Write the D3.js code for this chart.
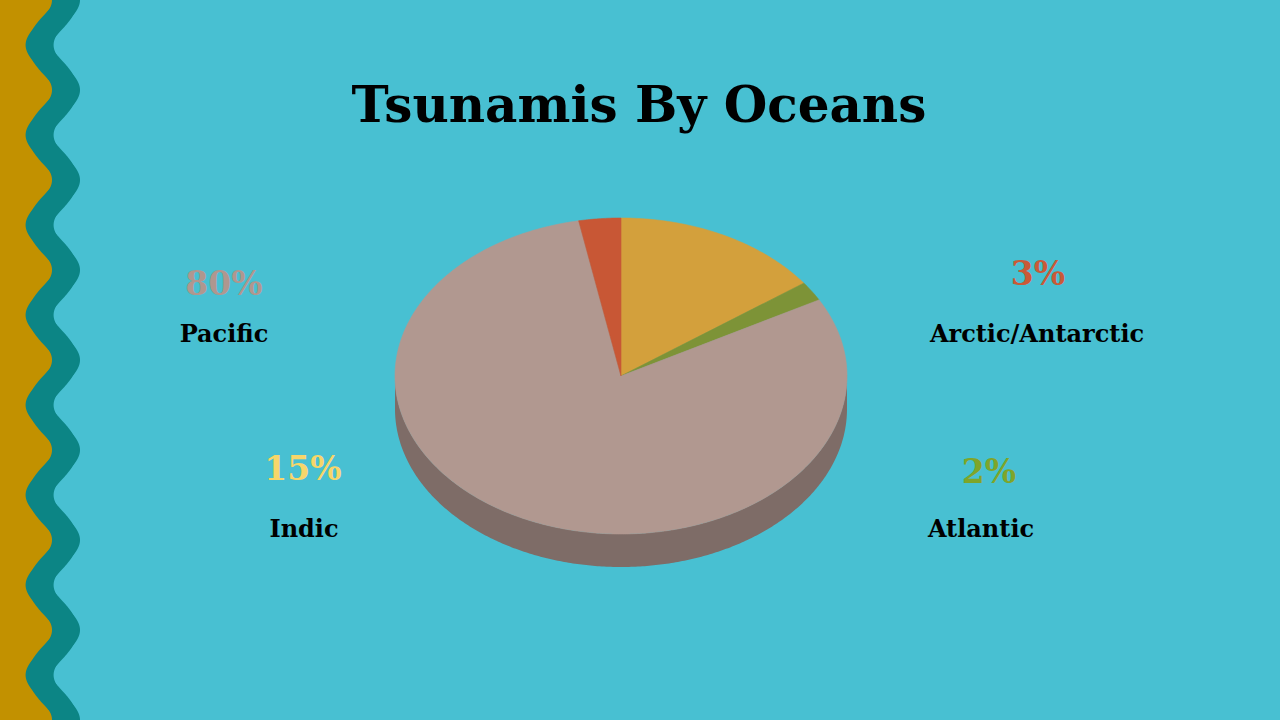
<!DOCTYPE html>
<html>
<head>
<meta charset="utf-8">
<script src="https://cdn.jsdelivr.net/npm/d3@7"></script>
<style>
  html, body { margin: 0; padding: 0; background: #48C0D2; }
  svg { display: block; }
  text { font-family: "DejaVu Serif", "Liberation Serif", serif; font-weight: bold; }
</style>
</head>
<body>
<svg id="chart" width="1280" height="720"></svg>
<script>
// ---- data ----
const categories = ["Indic", "Atlantic", "Pacific", "Arctic/Antarctic"];
const values = [15, 2, 80, 3];
const percentLabels = ["15%", "2%", "80%", "3%"];
const sliceColors = ["#D3A03C", "#7D9337", "#B19890", "#C85735"];
const labelColors = ["#F7D66A", "#7FA52A", "#B0978F", "#C95A38"];
const title = "Tsunamis By Oceans";

const W = 1280, H = 720;
const svg = d3.select("#chart");

svg.append("rect").attr("width", W).attr("height", H).attr("fill", "#48C0D2");

// ---- decorative wavy border ----
const period = 90, amp = 13.2, mid = 52.8, half = 14;
const ys = d3.range(-20, H + 21, 1);
const cx = y => mid + amp * Math.cos(2 * Math.PI * y / period);
svg.append("rect").attr("x", 0).attr("y", 0).attr("width", mid).attr("height", H).attr("fill", "#C29100");
svg.append("path")
  .attr("d", d3.area().x0(y => cx(y) - half).x1(y => cx(y) + half).y(y => y)(ys))
  .attr("fill", "#0C8585");
svg.append("path")
  .attr("d", d3.line().x(y => cx(y)).y(y => y)(ys))
  .attr("fill", "none")
  .attr("stroke", "#0C8585")
  .attr("stroke-width", 23);

// ---- title ----
svg.append("text")
  .attr("x", 639).attr("y", 122)
  .attr("text-anchor", "middle")
  .attr("font-size", 50)
  .attr("fill", "#000")
  .text(title);

// ---- 3D pie ----
const center = { x: 621, y: 376 };
const rx = 226, ry = 158, depth = 33;
const pie = d3.pie().sort(null).startAngle(0).endAngle(2 * Math.PI)(values);
const pt = (a, dy = 0) => [center.x + rx * Math.sin(a), center.y - ry * Math.cos(a) + dy];
const sample = (a0, a1) => {
  const n = Math.max(2, Math.ceil((a1 - a0) / 0.01));
  return d3.range(n + 1).map(i => a0 + (a1 - a0) * i / n);
};
const line = d3.line();

// side walls (front half only: angles between PI/2 and 3PI/2)
const sideG = svg.append("g");
pie.forEach((d, i) => {
  const a0 = Math.max(d.startAngle, Math.PI / 2);
  const a1 = Math.min(d.endAngle, 3 * Math.PI / 2);
  if (a1 <= a0) return;
  const top = sample(a0, a1).map(a => pt(a));
  const bot = sample(a0, a1).reverse().map(a => pt(a, depth));
  sideG.append("path")
    .attr("d", line(top.concat(bot)) + "Z")
    .attr("fill", d3.color(sliceColors[i]).darker(0.95));
});

// top faces
const topG = svg.append("g");
pie.forEach((d, i) => {
  const pts = [[center.x, center.y]].concat(sample(d.startAngle, d.endAngle).map(a => pt(a)));
  topG.append("path")
    .attr("d", line(pts) + "Z")
    .attr("fill", sliceColors[i])
    .attr("stroke", sliceColors[i])
    .attr("stroke-width", 0.6);
});

// ---- labels ----
const labelPos = [
  { px: 303, py: 480, nx: 304, ny: 537 },   // Indic
  { px: 989, py: 483, nx: 981, ny: 537 },   // Atlantic
  { px: 224, py: 295, nx: 224, ny: 342 },   // Pacific
  { px: 1038, py: 285, nx: 1037, ny: 342 }  // Arctic/Antarctic
];
categories.forEach((c, i) => {
  const p = labelPos[i];
  svg.append("text")
    .attr("x", p.px).attr("y", p.py)
    .attr("text-anchor", "middle")
    .attr("font-size", 33)
    .attr("fill", labelColors[i])
    .text(percentLabels[i]);
  svg.append("text")
    .attr("x", p.nx).attr("y", p.ny)
    .attr("text-anchor", "middle")
    .attr("font-size", 24)
    .attr("fill", "#000")
    .text(c);
});
</script>
</body>
</html>
